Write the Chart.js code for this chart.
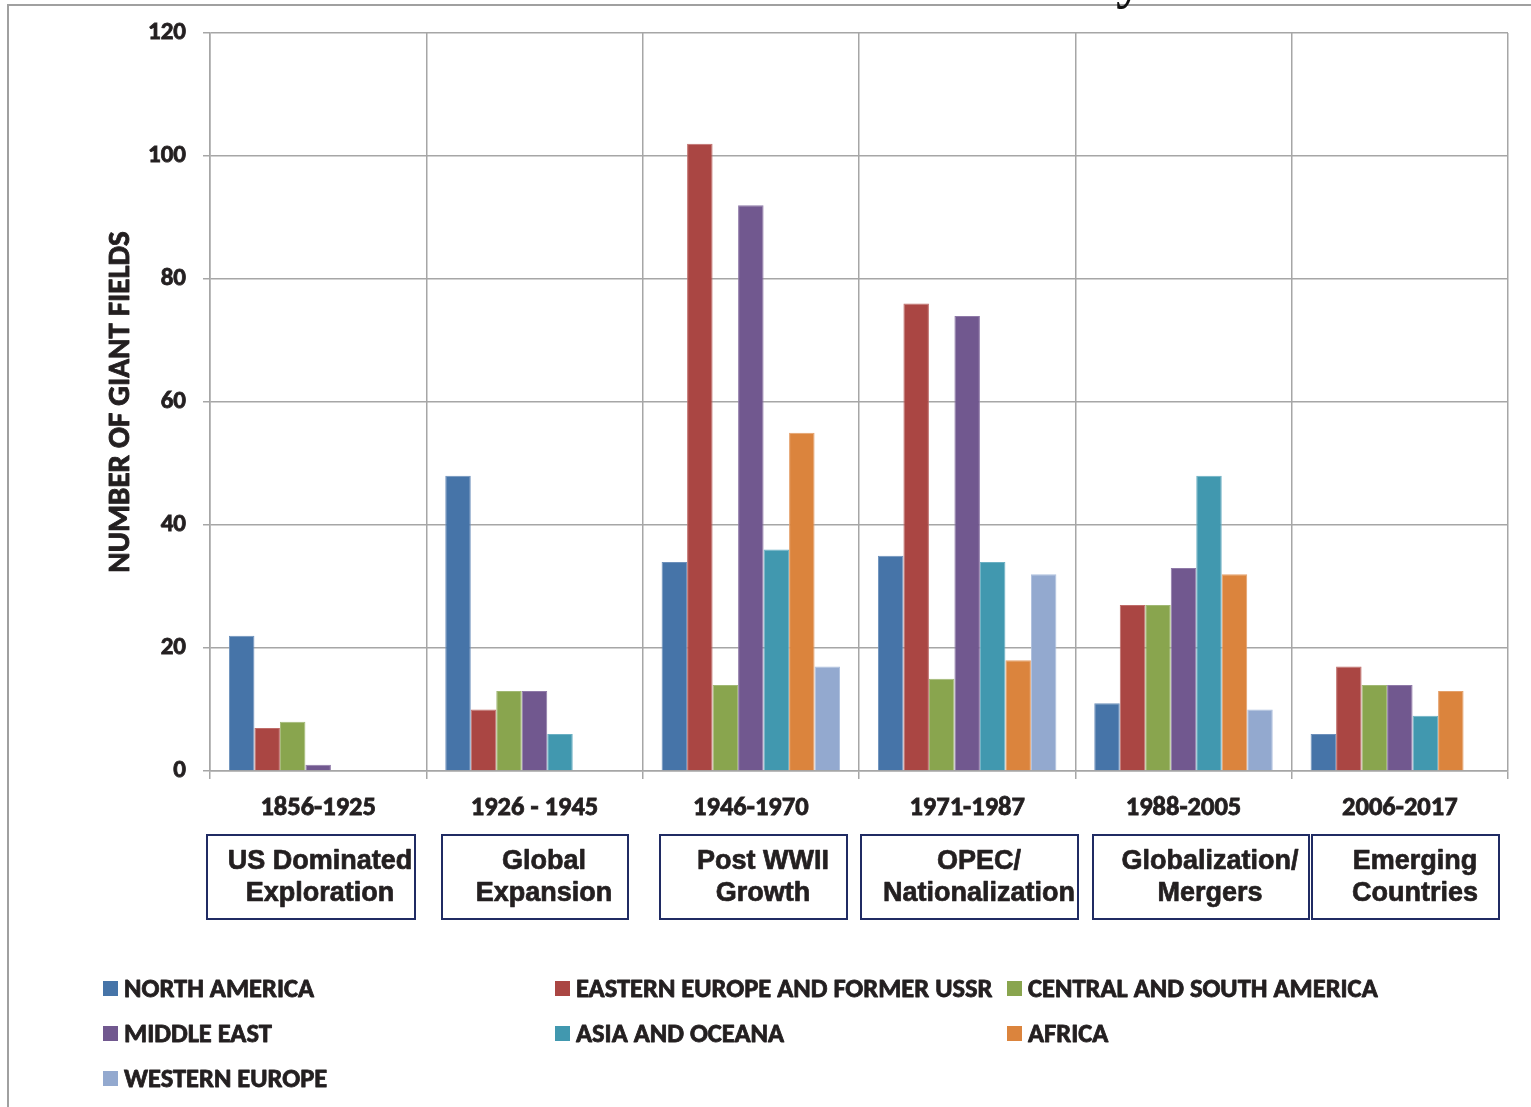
<!DOCTYPE html>
<html>
<head>
<meta charset="utf-8">
<script src="https://cdn.jsdelivr.net/npm/chart.js@4/dist/chart.umd.min.js"></script>
<style>
  html, body { margin: 0; padding: 0; background: #ffffff; }
  #wrap { position: relative; width: 1531px; height: 1107px; }
</style>
</head>
<body>
<div id="wrap"><canvas id="c" width="1531" height="1107"></canvas></div>
<script>
// Periods (category axis)
const periods = ['1856-1925', '1926 - 1945', '1946-1970', '1971-1987', '1988-2005', '2006-2017'];
// Era names shown in the boxes under each period
const eraNames = [
  ['US Dominated', 'Exploration'],
  ['Global', 'Expansion'],
  ['Post WWII', 'Growth'],
  ['OPEC/', 'Nationalization'],
  ['Globalization/', 'Mergers'],
  ['Emerging', 'Countries']
];
// Number of giant fields discovered per region and period
const northAmerica   = [22, 48, 34, 35, 11, 6];
const easternEurope  = [7, 10, 102, 76, 27, 17];
const centralSouthAm = [8, 13, 14, 15, 27, 14];
const middleEast     = [1, 13, 92, 74, 33, 14];
const asiaOceana     = [0, 6, 36, 34, 48, 9];
const africa         = [0, 0, 55, 18, 32, 13];
const westernEurope  = [0, 0, 17, 32, 10, 0];
// Region names
const regionNames = [
  'NORTH AMERICA', 'EASTERN EUROPE AND FORMER USSR', 'CENTRAL AND SOUTH AMERICA',
  'MIDDLE EAST', 'ASIA AND OCEANA', 'AFRICA', 'WESTERN EUROPE'
];
// Y axis ticks and title
const yTicks = [0, 20, 40, 60, 80, 100, 120];
const yTitle = 'NUMBER OF GIANT FIELDS';

const regionColors = ['#4674a8', '#aa4643', '#89a54e', '#71588f', '#4198af', '#db843d', '#93a9cf'];
const regionEdges  = ['#6d90bb', '#bf6c69', '#a1b874', '#8f7aa8', '#6bb0c3', '#e4a06a', '#adbfdd'];
const seriesValues = [northAmerica, easternEurope, centralSouthAm, middleEast, asiaOceana, africa, westernEurope];

const textColor = '#231f20';
const gridColor = '#a6a6a6';

// Boxes holding the era names (canvas pixels)
const eraBoxes = [
  { x: 207, w: 208 }, { x: 442, w: 186 }, { x: 660, w: 187 },
  { x: 861, w: 217 }, { x: 1093, w: 216 }, { x: 1312, w: 187 }
];
const eraTextCenters = [320, 544, 763, 979, 1210, 1415];

// fill plus a thin stroke, for heavier text
function heavyText(ctx, text, x, y, stroke) {
  ctx.lineWidth = stroke;
  ctx.strokeStyle = ctx.fillStyle;
  ctx.lineJoin = 'round';
  ctx.strokeText(text, x, y);
  ctx.fillText(text, x, y);
}

const decorations = {
  id: 'decorations',
  beforeDraw(chart) {
    const ctx = chart.ctx;
    ctx.save();
    // outer frame lines
    ctx.strokeStyle = '#a0a0a0';
    ctx.lineWidth = 2;
    ctx.beginPath();
    ctx.moveTo(8, 1107);
    ctx.lineTo(8, 5);
    ctx.lineTo(1531, 5);
    ctx.stroke();
    // tail of the heading glyph above the frame
    ctx.fillStyle = '#111111';
    ctx.font = "bold 54px 'Liberation Serif'";
    ctx.textBaseline = 'alphabetic';
    ctx.textAlign = 'left';
    ctx.fillText('y', 1116, -3);
    ctx.restore();
  },
  afterDraw(chart) {
    const ctx = chart.ctx;
    const area = chart.chartArea;
    ctx.save();
    // y axis title
    ctx.save();
    ctx.translate(121, (area.top + area.bottom) / 2);
    ctx.rotate(-Math.PI / 2);
    ctx.font = "bold 31px Carlito";
    ctx.fillStyle = textColor;
    ctx.textAlign = 'center';
    ctx.textBaseline = 'middle';
    heavyText(ctx, yTitle, 0, 0, 0.9);
    ctx.restore();
    // era boxes
    ctx.strokeStyle = '#202b63';
    ctx.lineWidth = 2;
    eraBoxes.forEach(b => ctx.strokeRect(b.x, 835, b.w, 84));
    ctx.fillStyle = textColor;
    ctx.font = "bold 27px 'Liberation Sans'";
    ctx.textAlign = 'center';
    ctx.textBaseline = 'middle';
    eraBoxes.forEach((b, i) => {
      heavyText(ctx, eraNames[i][0], eraTextCenters[i], 862, 0.7);
      heavyText(ctx, eraNames[i][1], eraTextCenters[i], 894, 0.7);
    });
    // legend in three columns
    const cols = [103, 555, 1007];
    const rows = [989, 1034, 1079];
    ctx.font = "bold 26.5px Carlito";
    ctx.textAlign = 'left';
    chart.data.datasets.forEach((ds, i) => {
      const x = cols[i % 3];
      const y = rows[Math.floor(i / 3)];
      ctx.fillStyle = ds.backgroundColor;
      ctx.fillRect(x, y - 8, 15, 15);
      ctx.fillStyle = textColor;
      heavyText(ctx, ds.label, x + 21, y + 1, 0.8);
    });
    ctx.restore();
  }
};

new Chart(document.getElementById('c'), {
  type: 'bar',
  data: {
    labels: periods,
    datasets: seriesValues.map((vals, i) => ({
      label: regionNames[i],
      data: vals,
      backgroundColor: regionColors[i],
      borderColor: regionEdges[i],
      borderWidth: 1,
      categoryPercentage: 0.825,
      barPercentage: 1.0
    }))
  },
  options: {
    responsive: false,
    animation: false,
    devicePixelRatio: 1,
    layout: { padding: { top: 33, right: 23, left: 0, bottom: 0 } },
    plugins: {
      legend: { display: false },
      tooltip: { enabled: false }
    },
    scales: {
      x: {
        grid: { offset: true, color: gridColor, lineWidth: 1.5, tickLength: 8, drawTicks: true },
        border: { color: gridColor, width: 1.5 },
        ticks: {
          color: textColor,
          font: { family: 'Carlito', weight: 'bold', size: 26.5 },
          textStrokeColor: textColor,
          textStrokeWidth: 0.8,
          padding: 13,
          maxRotation: 0,
          autoSkip: false
        },
        afterFit(scale) { scale.height = 336; }
      },
      y: {
        min: 0,
        max: 120,
        afterBuildTicks(scale) { scale.ticks = yTicks.map(v => ({ value: v })); },
        grid: { color: gridColor, lineWidth: 1.5, tickLength: 7 },
        border: { color: gridColor, width: 1.5 },
        ticks: {
          color: textColor,
          font: { family: 'Carlito', weight: 'bold', size: 25 },
          textStrokeColor: textColor,
          textStrokeWidth: 0.8,
          padding: 17
        },
        afterFit(scale) { scale.width = 210; }
      }
    }
  },
  plugins: [decorations]
});
</script>
</body>
</html>
